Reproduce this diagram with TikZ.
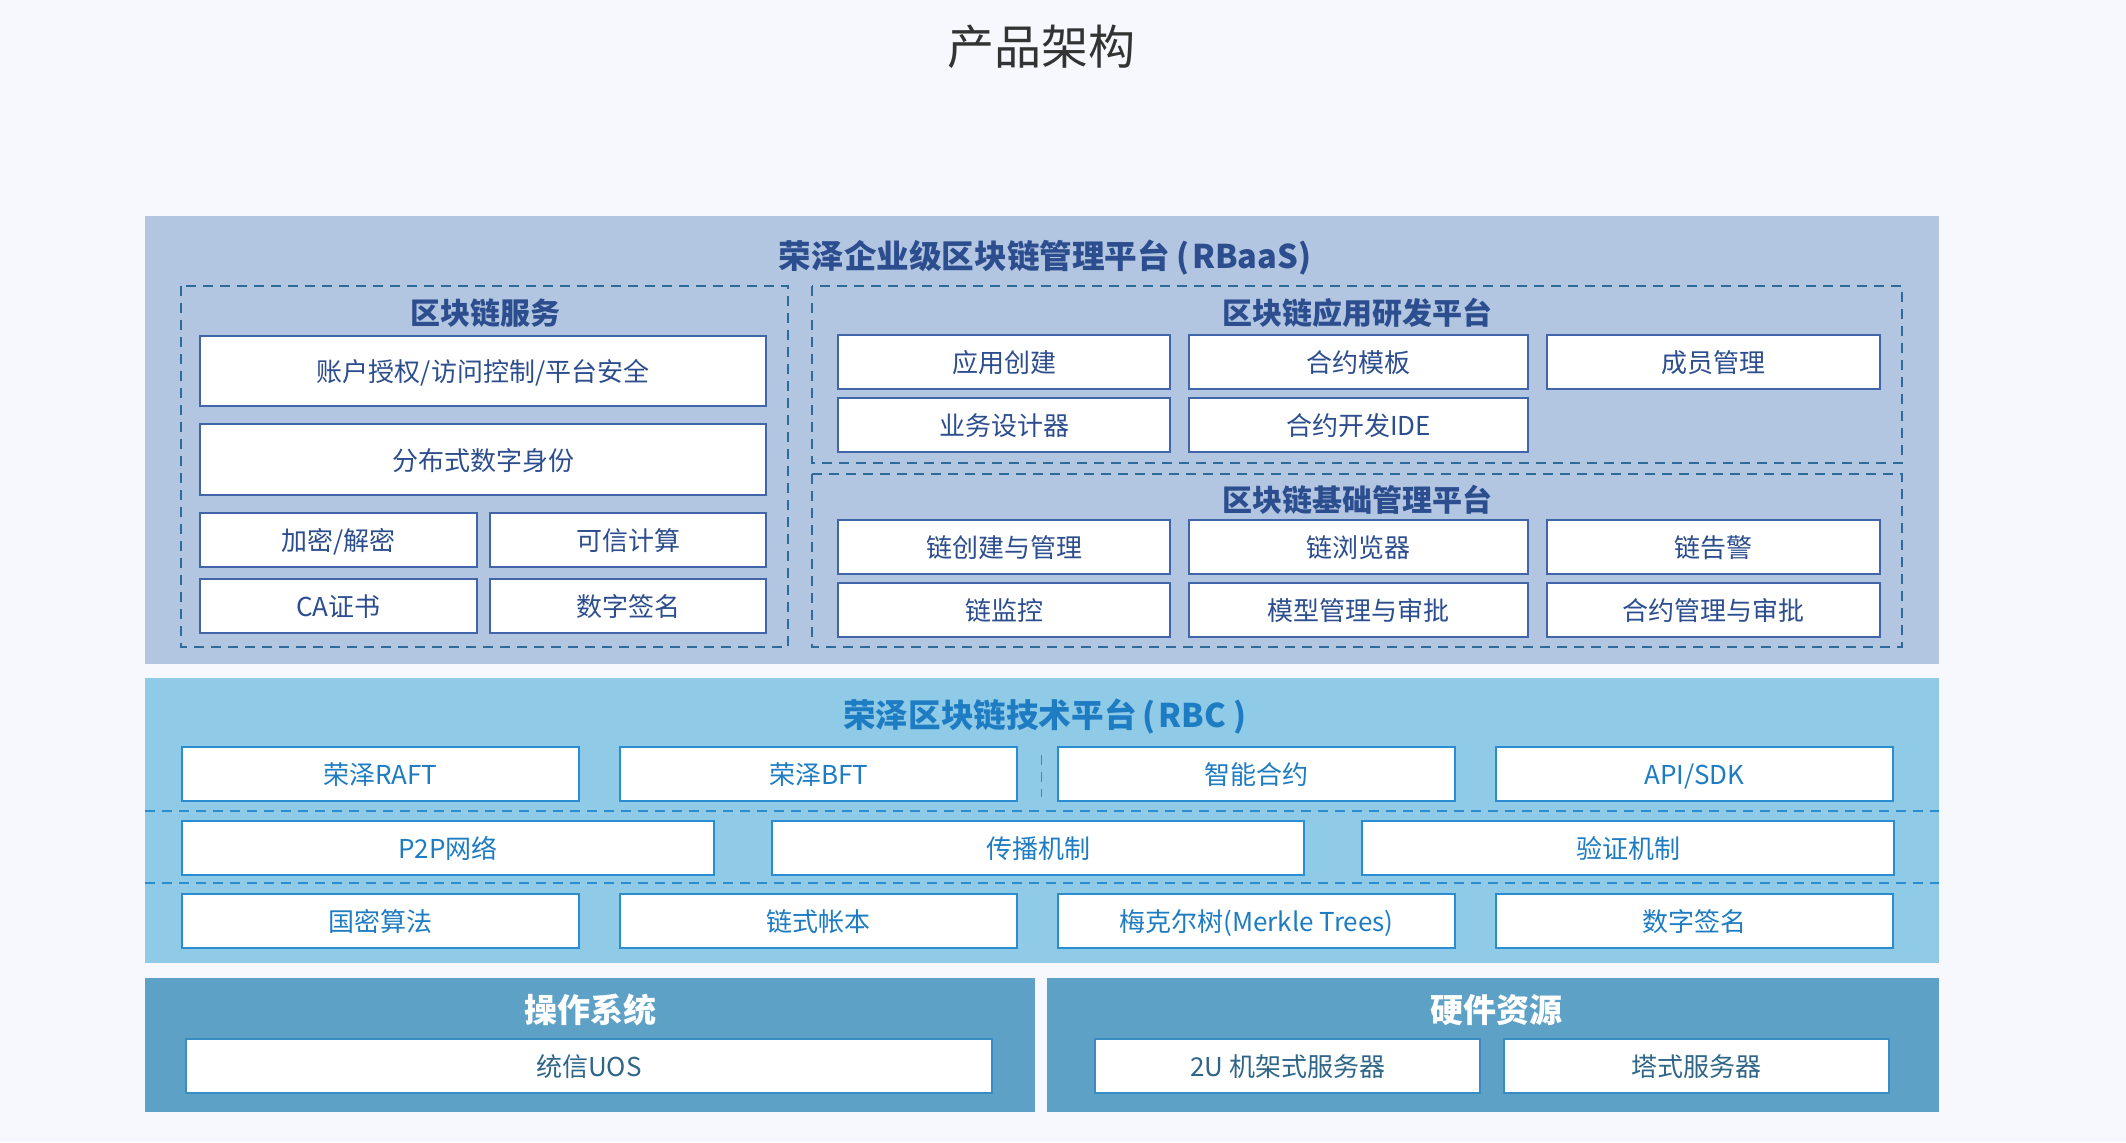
\documentclass[tikz,border=0pt]{standalone}
\usepackage{fontspec}
\setmainfont{Noto Sans CJK SC}
\usepackage{xcolor}
\usetikzlibrary{positioning}

\definecolor{pagebg}{HTML}{F7F8FD}
\definecolor{titlegray}{HTML}{333333}
\definecolor{rbaasfill}{HTML}{B2C6E1}
\definecolor{rbaasline}{HTML}{4264A8}
\definecolor{rbaastext}{HTML}{2C4D8E}
\definecolor{dashline}{HTML}{2E6B9B}
\definecolor{rbcfill}{HTML}{8FCAE7}
\definecolor{rbcline}{HTML}{2A8DD2}
\definecolor{rbctext}{HTML}{1E7CC3}
\definecolor{basefill}{HTML}{5DA1C7}
\definecolor{baseline}{HTML}{3A8DC3}
\definecolor{basetext}{HTML}{2F6688}

\begin{document}
\begin{tikzpicture}[
  x=0.5pt, y=-0.5pt,
  node distance=9.5pt,
  item/.style={draw=rbaasline, fill=white, line width=0.8pt, inner sep=0pt, outer sep=0pt, minimum height=27pt, text height=1.08em, text depth=0em, font=\fontsize{13pt}{15pt}\selectfont, text=rbaastext},
  chainitem/.style={item, draw=rbcline, text=rbctext},
  baseitem/.style={item, draw=baseline, text=basetext},
  head/.style={font=\bfseries\fontsize{16.3pt}{18pt}\selectfont, text=rbaastext},
  subhead/.style={font=\bfseries\fontsize{15pt}{17pt}\selectfont, text=rbaastext},
  group/.style={draw=dashline, dash pattern=on 5pt off 3.5pt, line width=0.8pt}
]
\useasboundingbox (0,0) rectangle (2126,1142);
\fill[pagebg] (0,0) rectangle (2126,1142);

\node[font=\fontsize{23.5pt}{26pt}\selectfont, text=titlegray] (title) at (1041,47) {产品架构};

% RBaaS
\fill[rbaasfill] (145,216) rectangle (1939,664);
\node[head] (rbaas) at (1045,258) {荣泽企业级区块链管理平台\hspace{3pt}(\hspace{1.5pt}RBaaS)};
\draw[group] (181,286) rectangle (788,647);
\draw[group] (812,286) rectangle (1902,463);
\draw[group] (812,474) rectangle (1902,647);

\node[subhead] (svc) at (485,313) {区块链服务};
\node[item, minimum width=283pt, minimum height=35pt] (account) at (483,371) {账户授权/访问控制/平台安全};
\node[item, minimum width=283pt, minimum height=35.5pt] (did) at (483,459.5) {分布式数字身份};
\node[item, minimum width=138.5pt, anchor=north west] (crypto) at (200,513) {加密/解密};
\node[item, minimum width=138pt, right=6.5pt of crypto] (trusted) {可信计算};
\node[item, minimum width=138.5pt, below=6pt of crypto] (ca) {CA证书};
\node[item, minimum width=138pt, right=6.5pt of ca] (svcsign) {数字签名};

\node[subhead] (devp) at (1357,313) {区块链应用研发平台};
\node[item, minimum width=166pt, anchor=north west] (appnew) at (838,335) {应用创建};
\node[item, minimum width=169.5pt, right=of appnew] (tmpl) {合约模板};
\node[item, minimum width=166.5pt, right=of tmpl] (member) {成员管理};
\node[item, minimum width=166pt, below=4.5pt of appnew] (designer) {业务设计器};
\node[item, minimum width=169.5pt, right=of designer] (ide) {合约开发IDE};

\node[subhead] (basep) at (1357,500) {区块链基础管理平台};
\node[item, minimum width=166pt, anchor=north west] (chainmgr) at (838,520) {链创建与管理};
\node[item, minimum width=169.5pt, right=of chainmgr] (browser) {链浏览器};
\node[item, minimum width=166.5pt, right=of browser] (alarm) {链告警};
\node[item, minimum width=166pt, below=4.5pt of chainmgr] (monitor) {链监控};
\node[item, minimum width=169.5pt, right=of monitor] (model) {模型管理与审批};
\node[item, minimum width=166.5pt, right=of model] (audit) {合约管理与审批};

% RBC
\fill[rbcfill] (145,678) rectangle (1939,963);
\node[head, text=rbctext] (rbc) at (1045,716) {荣泽区块链技术平台\hspace{3pt}(\hspace{1.5pt}RBC )};
\draw[group, draw=rbcline] (145,811) -- (1939,811);
\draw[group, draw=rbcline] (145,883) -- (1939,883);
\draw[group, draw=rbcline, line width=0.5pt] (1041,755) -- (1041,797);

\node[chainitem, minimum width=198.5pt, anchor=north west] (raft) at (182,747) {荣泽RAFT};
\node[chainitem, minimum width=198.5pt, right=20.5pt of raft] (bft) {荣泽BFT};
\node[chainitem, minimum width=198.5pt, right=20.5pt of bft] (smart) {智能合约};
\node[chainitem, minimum width=198.5pt, right=20.5pt of smart] (api) {API/SDK};

\node[chainitem, minimum width=266pt, anchor=north west] (p2p) at (182,821) {P2P网络};
\node[chainitem, minimum width=266pt, right=29pt of p2p] (gossip) {传播机制};
\node[chainitem, minimum width=266pt, right=29pt of gossip] (verify) {验证机制};

\node[chainitem, minimum width=198.5pt, anchor=north west] (gm) at (182,894) {国密算法};
\node[chainitem, minimum width=198.5pt, right=20.5pt of gm] (ledger) {链式帐本};
\node[chainitem, minimum width=198.5pt, right=20.5pt of ledger] (merkle) {梅克尔树(Merkle Trees)};
\node[chainitem, minimum width=198.5pt, right=20.5pt of merkle] (rbcsign) {数字签名};

% base layer
\fill[basefill] (145,978) rectangle (1035,1112);
\fill[basefill] (1047,978) rectangle (1939,1112);
\node[head, text=white, font=\bfseries\fontsize{16.5pt}{18pt}\selectfont] (os) at (590,1010) {操作系统};
\node[head, text=white, font=\bfseries\fontsize{16.5pt}{18pt}\selectfont] (hw) at (1496,1010) {硬件资源};
\node[baseitem, minimum width=403pt, anchor=north west] (uos) at (186,1039) {统信UOS};
\node[baseitem, minimum width=192.5pt, anchor=north west] (rack) at (1095,1039) {2U 机架式服务器};
\node[baseitem, minimum width=192.5pt, right=12pt of rack] (tower) {塔式服务器};
\end{tikzpicture}
\end{document}
